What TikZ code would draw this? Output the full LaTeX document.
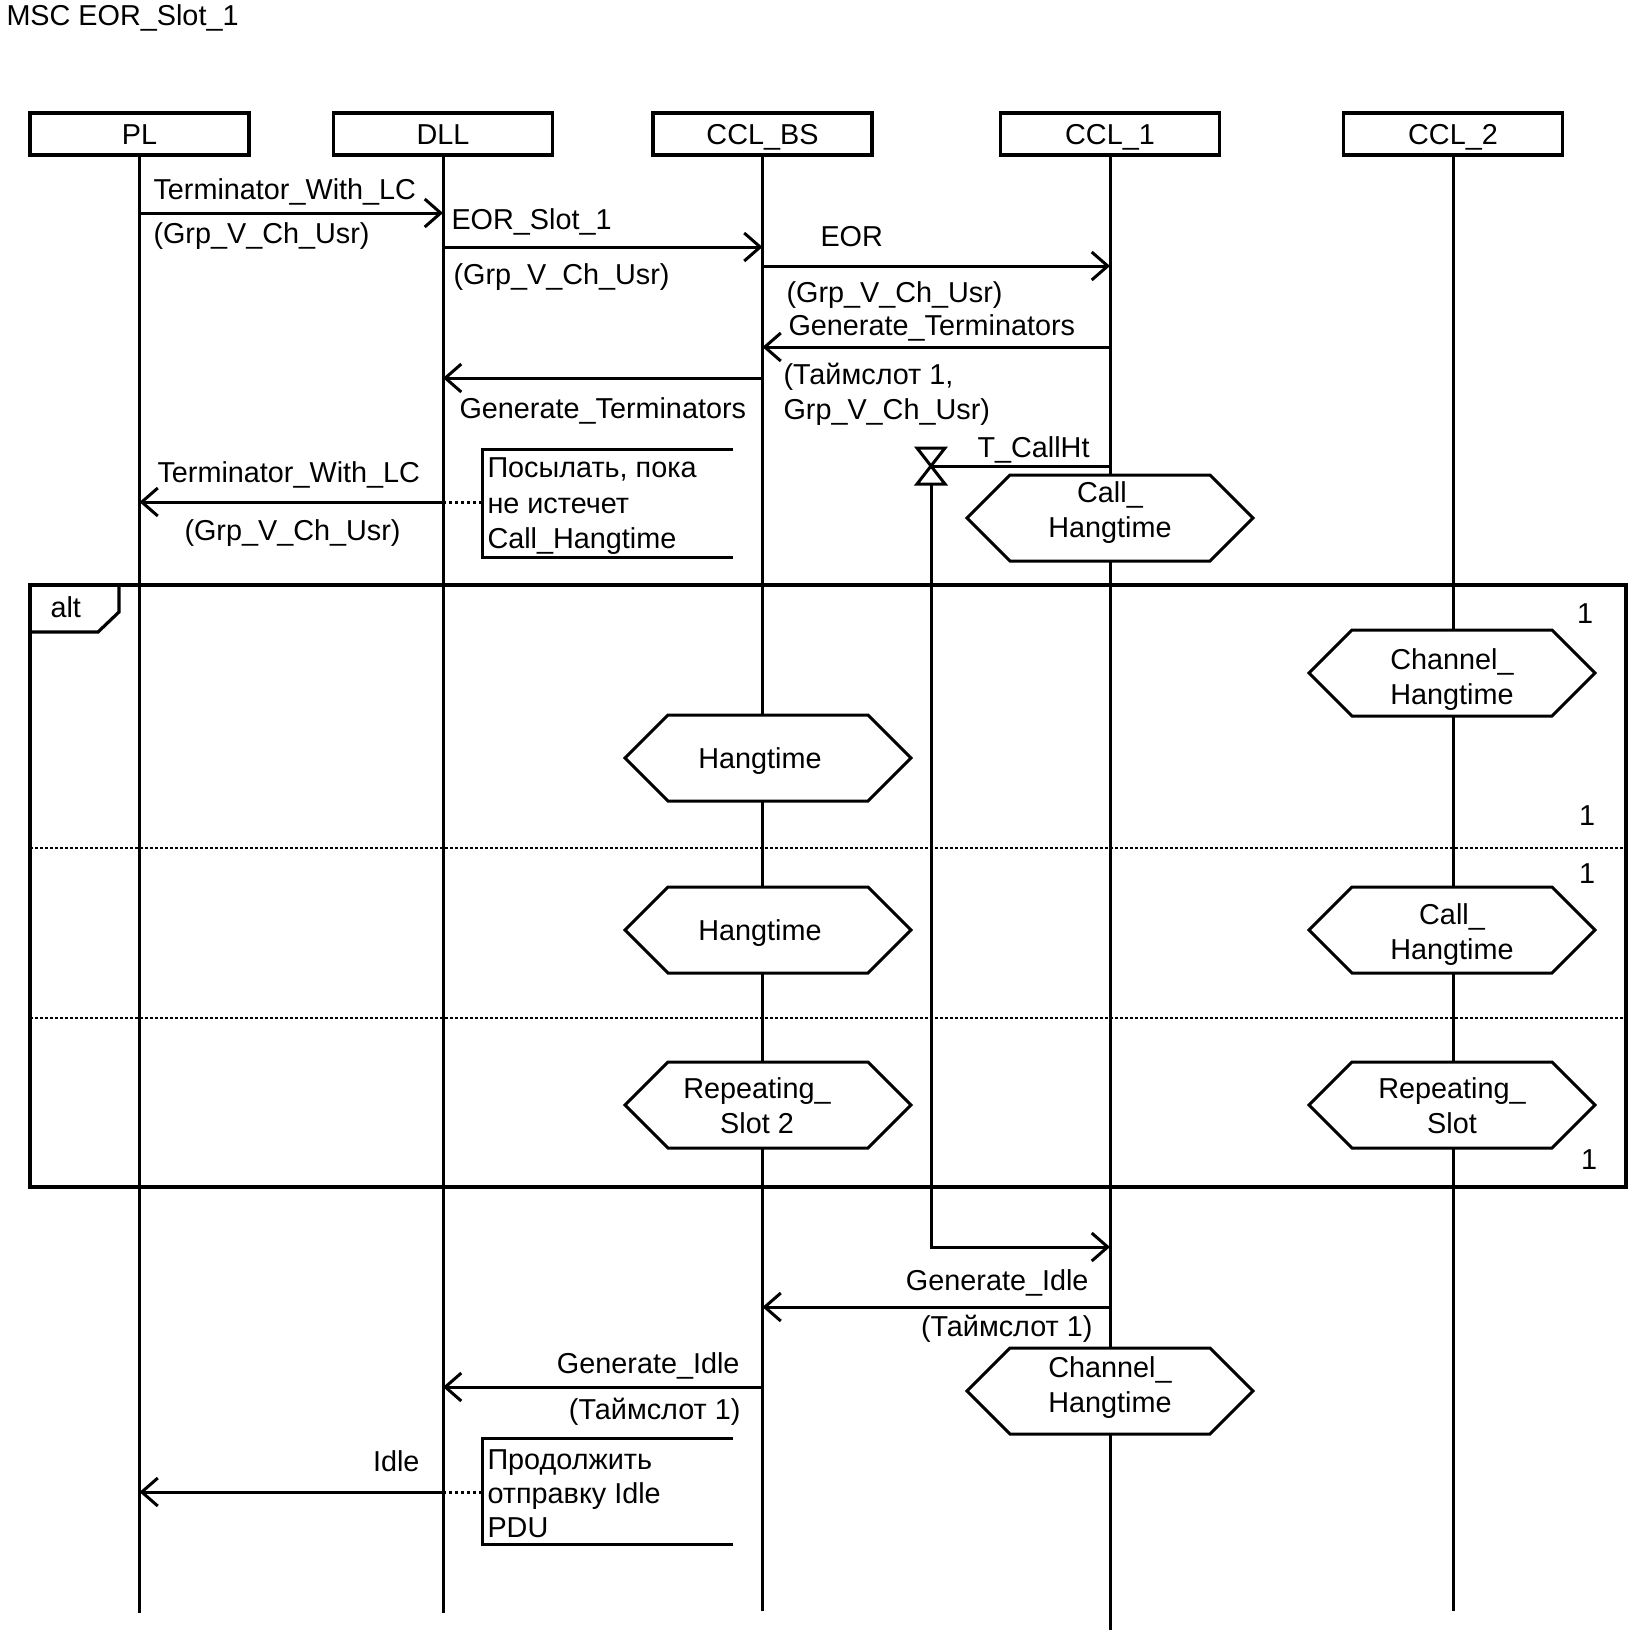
\documentclass[tikz,border=0pt]{standalone}
\usepackage{fontspec}
\setmainfont{Liberation Sans}
\usetikzlibrary{arrows.meta}

%% Condition symbol (hexagon)
\newcommand\condhex{\draw[fill=white] (-143,0) -- (-100,-43) -- (100,-43) -- (143,0) -- (100,43) -- (-100,43) -- cycle;}

\begin{document}
\begin{tikzpicture}[x=0.5pt,y=-0.5pt,line width=1.5pt,
font=\fontsize{14.4}{17.5}\selectfont,
inst/.style={draw,line width=1.6pt,minimum width=109.5pt,minimum height=21pt,inner sep=0pt,text height=10.5pt,text depth=0pt},
lbl/.style={inner sep=0pt,anchor=base west},
lblr/.style={inner sep=0pt,anchor=base east},
msg/.style={-{Straight Barb[length=8pt,width=14pt]}},
sep/.style={line width=1pt,dash pattern=on 1.5pt off 1pt},
dots/.style={dash pattern=on 1.5pt off 1.5pt}]
\useasboundingbox (0,0) rectangle (1633,1635);

%% Conditions
\tikzset{pics/cond/.style 2 args={code={
\condhex
\node[inner sep=0pt,anchor=base] (-a) at (#1,10) {#2};
}}}
\tikzset{pics/cond2/.style n args={4}{code={
\condhex
\node[inner sep=0pt,anchor=base] (-a) at (#1,{#2-17}) {#3};
\node[inner sep=0pt,anchor=base] (-b) at (#1,{#2+18}) {#4};
}}}

\node[lbl] (title) at (5,25) {MSC EOR\_Slot\_1};

% Instances
\node[inst] (pl) at (139.5,134) {PL};
\node[inst] (dll) at (443,134) {DLL};
\node[inst] (ccbs) at (762.5,134) {CCL\_BS};
\node[inst] (cc1) at (1110,134) {CCL\_1};
\node[inst] (cc2) at (1453,134) {CCL\_2};
\foreach \n/\e in {pl/1613,dll/1613,ccbs/1611,cc1/1630,cc2/1611}
\draw (\n.south) -- (\n.south |- 0,\e);

% Alt frame
\draw[line width=1.6pt] (30,585) rectangle (1626,1187);
\draw[line width=1.6pt] (119,585) -- (119,612) -- (98,632) -- (30,632);
\node[lbl] (alt) at (49,617) {alt};
\draw[sep] (30,848) -- (1626,848);
\draw[sep] (30,1018) -- (1626,1018);
\foreach \y/\x [count=\i] in {623/1585,825/1587,883/1587,1169/1589}
\node[inner sep=0pt,anchor=base] (one\i) at (\x,\y) {1};

% Messages
\foreach \a/\b/\y in {pl/dll/213,dll/ccbs/247,ccbs/cc1/266,cc1/ccbs/347,ccbs/dll/378,
dll/pl/502,cc1/ccbs/1307,ccbs/dll/1387,dll/pl/1492}
\draw[msg] (\a |- 0,\y) -- (\b |- 0,\y);

\node[lbl] (m1a) at (152,199) {Terminator\_With\_LC};
\node[lbl] (m1b) at (152,243) {(Grp\_V\_Ch\_Usr)};
\node[lbl] (m2a) at (450,229) {EOR\_Slot\_1};
\node[lbl] (m2b) at (452,284) {(Grp\_V\_Ch\_Usr)};
\node[lbl] (m3a) at (819,246) {EOR};
\node[lbl] (m3b) at (785,302) {(Grp\_V\_Ch\_Usr)};
\node[lbl] (m4a) at (787,335) {Generate\_Terminators};
\node[lbl] (m4b) at (782,384) {(Таймслот 1,};
\node[lbl] (m4c) at (782,419) {Grp\_V\_Ch\_Usr)};
\node[lbl] (m5a) at (458,418) {Generate\_Terminators};
\node[lbl] (m6a) at (156,482) {Terminator\_With\_LC};
\node[lbl] (m6b) at (183,540) {(Grp\_V\_Ch\_Usr)};
\node[lblr] (m7a) at (1090,1290) {Generate\_Idle};
\node[lblr] (m7b) at (1094,1336) {(Таймслот 1)};
\node[lblr] (m8a) at (741,1373) {Generate\_Idle};
\node[lblr] (m8b) at (742,1419) {(Таймслот 1)};
\node[lblr] (m9a) at (421,1471) {Idle};

% Timer T_CallHt
\coordinate (tm) at (931,466);
\coordinate (tmb) at (931,484);
\draw (cc1 |- tm) -- (tm);
\draw (917,448) -- (945,448) -- (917,484) -- (945,484) -- cycle;
\draw[msg] (tmb) -- (931,1247) -- (cc1 |- 0,1247);
\node[lbl] (tlbl) at (976,457) {T\_CallHt};

% Comments
\draw (733,449) -- (482,449) -- (482,557) -- (733,557);
\draw[dots] (dll |- 0,502) -- (482,502);
\foreach \t [count=\i] in {{Посылать, пока},{не истечет},{Call\_Hangtime}}
\node[lbl] (cma\i) at (486,{442+35.5*\i}) {\t};
\draw (733,1438) -- (482,1438) -- (482,1544) -- (733,1544);
\draw[dots] (dll |- 0,1492) -- (482,1492);
\foreach \t [count=\i] in {{Продолжить},{отправку Idle},{PDU}}
\node[lbl] (cmb\i) at (486,{1435+34*\i}) {\t};

% Condition symbols
\pic (c1) at (1110,518) {cond2={0}{1}{Call\_}{Hangtime}};
\pic (c2) at (1452,673) {cond2={0}{13}{Channel\_}{Hangtime}};
\pic (c3) at (768,758) {cond={-8}{Hangtime}};
\pic (c4) at (768,930) {cond={-8}{Hangtime}};
\pic (c5) at (1452,930) {cond2={0}{11}{Call\_}{Hangtime}};
\pic (c6) at (768,1105) {cond2={-11}{10}{Repeating\_}{Slot 2}};
\pic (c7) at (1452,1105) {cond2={0}{10}{Repeating\_}{Slot}};
\pic (c8) at (1110,1391) {cond2={0}{3}{Channel\_}{Hangtime}};

\end{tikzpicture}
\end{document}
